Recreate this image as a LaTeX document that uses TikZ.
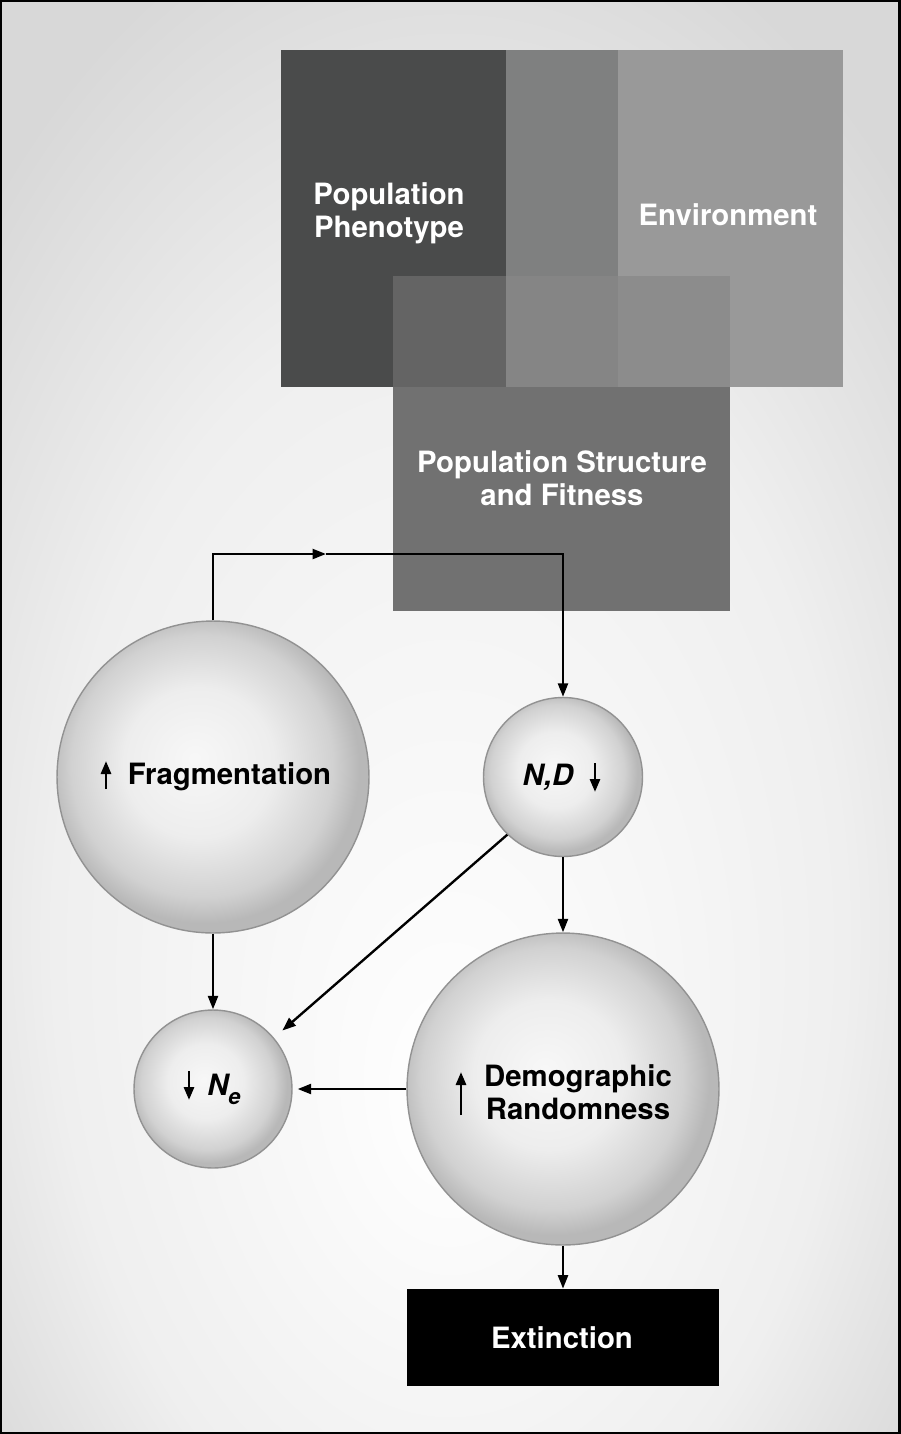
\documentclass[tikz,border=0pt]{standalone}
\usepackage{fontspec}
\setmainfont{TeX Gyre Heros}
\usetikzlibrary{arrows.meta}
\definecolor{phenogray}{HTML}{4A4B4B}
\definecolor{mixgray}{HTML}{7F8080}
\definecolor{envgray}{HTML}{999999}
\definecolor{ovlone}{HTML}{646464}
\definecolor{ovltwo}{HTML}{858585}
\definecolor{ovlthree}{HTML}{8C8C8C}
\definecolor{structgray}{HTML}{717171}
\definecolor{rimgray}{HTML}{929292}
\definecolor{bgmid}{HTML}{EFEFEF}
\definecolor{bgedge}{HTML}{D8D8D8}
\pgfdeclareradialshading{bubble}{\pgfpoint{-3bp}{3bp}}{color(0bp)=(white!97!black); color(12bp)=(white!93!black); color(21bp)=(white!82!black); color(25bp)=(white!72!black); color(50bp)=(white!72!black)}
\pgfdeclareradialshading{backdrop}{\pgfpoint{0bp}{-14bp}}{color(0bp)=(white); color(22bp)=(bgmid); color(34bp)=(bgedge); color(50bp)=(bgedge)}
\tikzset{
  conn/.style={-{Triangle[length=0.27cm,width=0.2cm]}, line width=1.35pt},
  tick/.style={-{Triangle[length=0.26cm,width=0.2cm]}, line width=1.6pt},
  bubble/.style={circle, draw=rimgray, line width=0.8pt, shading=bubble, inner sep=0pt},
  lbl/.style={font=\fontsize{16.7}{18.7}\selectfont\bfseries, align=center, inner sep=0pt},
}
\begin{document}
\begin{tikzpicture}[x=0.02cm, y=-0.02cm]
  % backdrop and frame
  \shade[shading=backdrop] (0,0) rectangle (900,1434);
  \useasboundingbox (0,0) rectangle (900,1434);
  % overlapping blocks
  \fill[phenogray] (281,50) rectangle (506,387);
  \fill[mixgray] (506,50) rectangle (618,387);
  \fill[envgray] (618,50) rectangle (843,387);
  \fill[ovlone] (393,276) rectangle (506,387);
  \fill[ovltwo] (506,276) rectangle (618,387);
  \fill[ovlthree] (618,276) rectangle (730,387);
  \fill[structgray] (393,387) rectangle (730,611);
  \node[lbl, white] (pheno) at (389,213) {Population\\Phenotype};
  \node[lbl, white] (env) at (728,215) {Environment};
  \node[lbl, white] (struct) at (562,478) {Population Structure\\and Fitness};
  % bubbles
  \node[bubble, minimum size=6.24cm] (frag) at (213,777) {};
  \node[bubble, minimum size=3.18cm] (nd) at (563,777) {};
  \node[bubble, minimum size=3.16cm] (ne) at (213,1089) {};
  \node[bubble, minimum size=6.24cm] (dem) at (563,1089) {};
  \node[fill=black, minimum width=6.24cm, minimum height=1.94cm] (ext) at (563,1337.5) {};
  \node[lbl] (fragtxt) at (229.5,777) {Fragmentation};
  \node[lbl] (ndtxt) at (548,777) {\itshape N,D};
  \node[lbl] (netxt) at (224,1089) {\itshape N\raisebox{-0.3em}{\fontsize{12.5}{12.5}\selectfont e}};
  \node[lbl] (demtxt) at (578,1092) {Demographic\\Randomness};
  \node[lbl, white] (exttxt) at (562,1338) {Extinction};
  % little up/down marks
  \coordinate (fragtick) at (106,789);
  \coordinate (ndtick) at (595,763);
  \coordinate (netick) at (189,1071);
  \coordinate (demtick) at (461,1115);
  \draw[tick] (fragtick) -- ++(0,-28);
  \draw[tick] (ndtick) -- ++(0,29);
  \draw[tick] (netick) -- ++(0,29);
  \draw[tick] (demtick) -- ++(0,-43);
  % connectors
  \coordinate (turn) at (326,554);
  \draw[conn] (frag.north) |- (turn);
  \draw[conn] (turn) -| (nd.north);
  \draw[conn] (frag.south) -- (ne.north);
  \draw[conn, shorten >=0.22cm] (nd.226) -- (ne.40);
  \draw[conn] (nd.south) -- (dem.north);
  \draw[conn, shorten >=0.1cm] (dem.west) -- (ne.east);
  \draw[conn] (dem.south) -- (ext.north);
  \draw[line width=2.4pt] (0,0) rectangle (900,1434);
\end{tikzpicture}
\end{document}
